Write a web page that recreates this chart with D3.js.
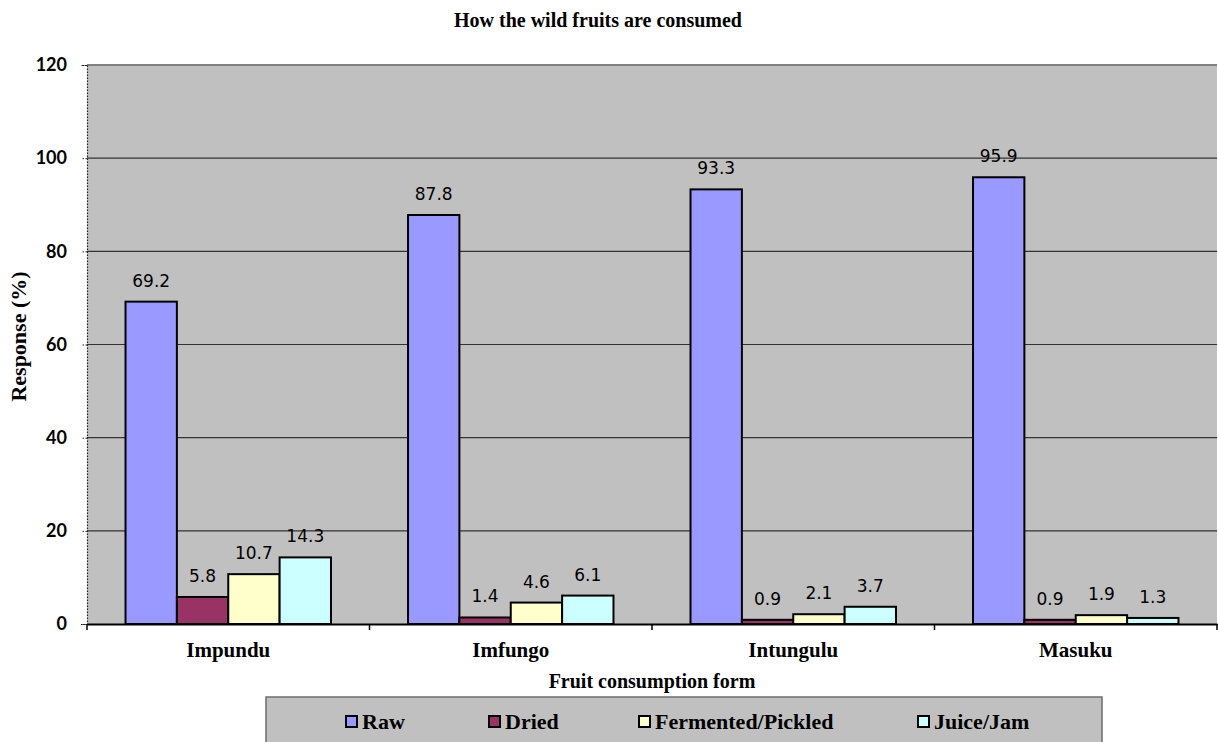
<!DOCTYPE html>
<html>
<head>
<meta charset="utf-8">
<script src="https://cdn.jsdelivr.net/npm/d3@7"></script>
<style>
  html, body { margin: 0; padding: 0; background: #fff; }
  svg { display: block; }
</style>
</head>
<body>
<svg id="chart" width="1218" height="742"></svg>
<script>
// Fruits (x-axis categories)
const fruits = ["Impundu", "Imfungo", "Intungulu", "Masuku"];
// Consumption forms (series)
const forms = ["Raw", "Dried", "Fermented/Pickled", "Juice/Jam"];
// Response (%) per fruit, one array per consumption form
const rawValues = [69.2, 87.8, 93.3, 95.9];
const driedValues = [5.8, 1.4, 0.9, 0.9];
const fermentedValues = [10.7, 4.6, 2.1, 1.9];
const juiceValues = [14.3, 6.1, 3.7, 1.3];
// Y axis ticks
const yTicks = [0, 20, 40, 60, 80, 100, 120];

const seriesValues = [rawValues, driedValues, fermentedValues, juiceValues];
const colors = ["#9999FF", "#993366", "#FFFFCC", "#CCFFFF"];
const serif = "'Liberation Serif', 'Times New Roman', serif";

const svg = d3.select("#chart");
const plot = { left: 87, right: 1217, top: 65, bottom: 624 };

const x = d3.scaleBand().domain(fruits).range([plot.left, plot.right]).padding(0);
const groupWidth = x.bandwidth() * (4 / 5.5);
const x1 = d3.scaleBand().domain(forms).range([0, groupWidth]).padding(0);
const y = d3.scaleLinear().domain([0, 120]).range([plot.bottom, plot.top]);

// Title
svg.append("text")
  .attr("x", 598).attr("y", 27)
  .attr("text-anchor", "middle")
  .style("font-family", serif)
  .style("font-weight", "bold").style("font-size", "20px")
  .text("How the wild fruits are consumed");

// Plot background
svg.append("rect")
  .attr("x", plot.left).attr("y", plot.top)
  .attr("width", plot.right - plot.left).attr("height", plot.bottom - plot.top)
  .attr("fill", "#C0C0C0");

// Horizontal gridlines
svg.append("g").selectAll("line")
  .data(yTicks.filter(t => t > 0 && t < 120))
  .join("line")
  .attr("x1", plot.left).attr("x2", plot.right)
  .attr("y1", d => y(d)).attr("y2", d => y(d))
  .attr("stroke", "#333").attr("stroke-width", 1.2);

// Top border
svg.append("line")
  .attr("x1", plot.left).attr("x2", plot.right)
  .attr("y1", y(120)).attr("y2", y(120))
  .attr("stroke", "#808080").attr("stroke-width", 2);

// Y axis (dotted line with short ticks)
const yAxis = d3.axisLeft(y).tickValues(yTicks).tickSize(6).tickPadding(14);
const yg = svg.append("g").attr("transform", `translate(${plot.left},0)`).call(yAxis);
yg.select(".domain").attr("stroke", "#222").attr("stroke-dasharray", "1.5,1.5").attr("stroke-width", 1.2);
yg.selectAll(".tick line").attr("stroke", "#222").attr("stroke-dasharray", "1.5,1.5");
yg.selectAll(".tick text")
  .style("font-family", "Lato, 'Liberation Sans', sans-serif")
  .style("font-weight", "bold").style("font-size", "18px").attr("fill", "#000");

// Bars
const groups = svg.append("g").selectAll("g")
  .data(fruits)
  .join("g")
  .attr("transform", d => `translate(${x(d) + (x.bandwidth() - groupWidth) / 2},0)`);

groups.selectAll("rect")
  .data((d, i) => forms.map((f, j) => ({ form: f, value: seriesValues[j][i], color: colors[j] })))
  .join("rect")
  .attr("x", d => x1(d.form))
  .attr("y", d => y(d.value))
  .attr("width", x1.bandwidth())
  .attr("height", d => y(0) - y(d.value))
  .attr("fill", d => d.color)
  .attr("stroke", "#000").attr("stroke-width", 2);

// Value labels
groups.selectAll("text")
  .data((d, i) => forms.map((f, j) => ({ form: f, value: seriesValues[j][i] })))
  .join("text")
  .attr("x", d => x1(d.form) + x1.bandwidth() / 2)
  .attr("y", d => y(d.value) - 15)
  .attr("text-anchor", "middle")
  .style("font-family", "'DejaVu Sans', Verdana, sans-serif")
  .style("font-size", "17px").attr("fill", "#000")
  .text(d => d.value.toFixed(1));

// X axis
const xAxis = d3.axisBottom(x).tickSize(0).tickPadding(18);
const xg = svg.append("g").attr("transform", `translate(0,${plot.bottom})`).call(xAxis);
xg.select(".domain").attr("stroke", "#000").attr("stroke-width", 2);
xg.selectAll(".tick text")
  .style("font-family", serif)
  .style("font-weight", "bold").style("font-size", "21px").attr("fill", "#000");
// Category boundary ticks
svg.append("g").selectAll("line")
  .data(fruits.map(f => x(f)).concat([plot.right]))
  .join("line")
  .attr("x1", d => d).attr("x2", d => d)
  .attr("y1", plot.bottom).attr("y2", plot.bottom + 6)
  .attr("stroke", "#000").attr("stroke-width", 1.5);

// Axis titles
svg.append("text")
  .attr("x", (plot.left + plot.right) / 2).attr("y", 688)
  .attr("text-anchor", "middle")
  .style("font-family", serif)
  .style("font-weight", "bold").style("font-size", "20px")
  .text("Fruit consumption form");

svg.append("text")
  .attr("transform", `translate(26,${(plot.top + plot.bottom) / 2 - 8}) rotate(-90)`)
  .attr("text-anchor", "middle")
  .style("font-family", serif)
  .style("font-weight", "bold").style("font-size", "22px")
  .text("Response (%)");

// Legend
const legend = svg.append("g");
legend.append("rect")
  .attr("x", 266).attr("y", 697).attr("width", 836).attr("height", 70)
  .attr("fill", "#C0C0C0").attr("stroke", "#6e6e6e").attr("stroke-width", 1.5);
const legendX = [346, 489, 639, 918];
const items = legend.selectAll("g.item")
  .data(forms)
  .join("g").attr("class", "item")
  .attr("transform", (d, i) => `translate(${legendX[i]},716)`);
items.append("rect")
  .attr("width", 11).attr("height", 11)
  .attr("fill", (d, i) => colors[i])
  .attr("stroke", "#000").attr("stroke-width", 2);
items.append("text")
  .attr("x", 16).attr("y", 13)
  .style("font-family", serif)
  .style("font-weight", "bold").style("font-size", "22px")
  .text(d => d);
</script>
</body>
</html>
